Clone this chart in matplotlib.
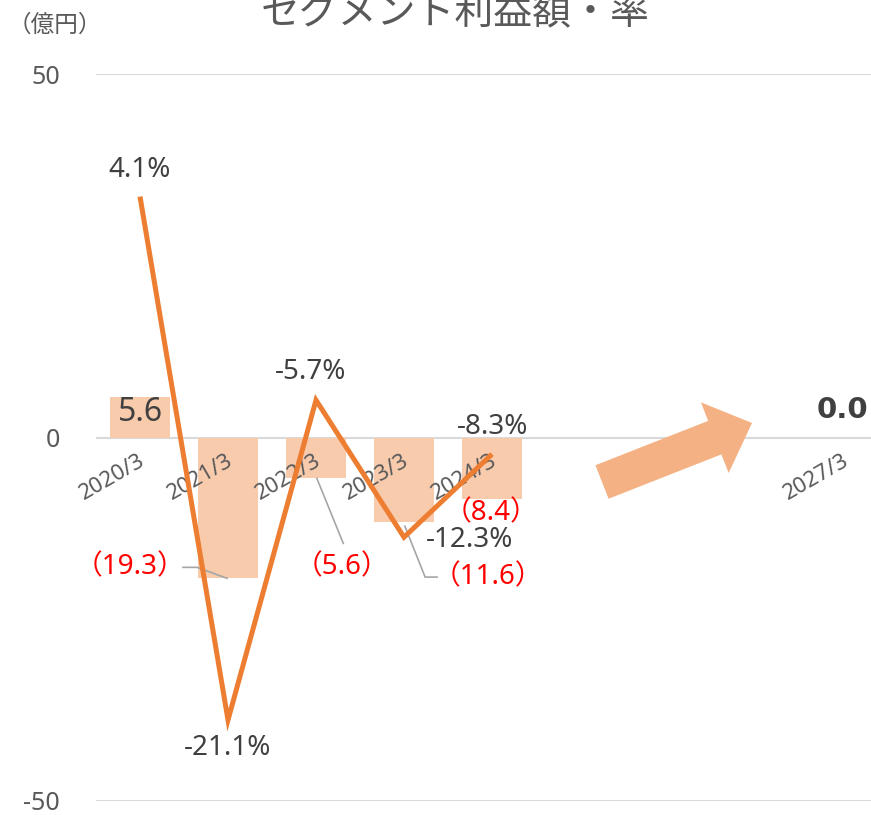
import numpy as np
import matplotlib
matplotlib.use("Agg")
import matplotlib.pyplot as plt
from matplotlib.patches import Polygon

FAM = ['Noto Sans', 'Noto Sans CJK JP', 'DejaVu Sans']
CJK = ['Noto Sans CJK JP', 'DejaVu Sans']
plt.rcParams['font.family'] = FAM

# ---- data ----
categories = ["2020/3", "2021/3", "2022/3", "2023/3", "2024/3", "", "", "", "2027/3"]
profit = [5.6, -19.3, -5.6, -11.6, -8.4, np.nan, np.nan, np.nan, 0.0]
margin_cats = [0, 1, 2, 3, 4]
margin = [4.1, -21.1, -5.7, -12.3, -8.3]
title = "セグメント利益額・率"
unit_label = "（億円）"
y_ticks = [-50, 0, 50]

W, H = 871, 815
fig = plt.figure(figsize=(W / 100, H / 100), dpi=100)

left_px, top_px, bottom_px = 96, 74, 801
ncat = len(categories)
cat_px = 88
ax = fig.add_axes([left_px / W, 1 - bottom_px / H, ncat * cat_px / W, (bottom_px - top_px) / H])
x = np.arange(ncat)

BAR = "#F8CBAD"
LINE = "#ED7D31"
GRAY = "#595959"
DARK = "#404040"
RED = "#FF0000"

ax.bar(x, profit, width=0.68, color=BAR, zorder=2)
ax.set_xlim(-0.5, ncat - 0.5)
ax.set_ylim(-50, 50)
ax.set_yticks(y_ticks)
ax.set_yticklabels([str(v) for v in y_ticks], color=GRAY, fontsize=18)
ax.tick_params(axis='y', length=0, pad=26)
ax.grid(axis='y', color="#D9D9D9", linewidth=1.5, zorder=1)
for s in ax.spines.values():
    s.set_visible(False)
ax.set_xticks([])

# category labels along the zero line
for i, c in enumerate(categories):
    if c:
        ax.annotate(c, xy=(i, 0), xytext=(-2, -13), textcoords='offset pixels',
                    rotation=30, rotation_mode='anchor', ha='right', va='top',
                    fontsize=16, color=GRAY, zorder=3)

# bar value labels
def fmt(v):
    return f"{v:.1f}" if v >= 0 else f"（{abs(v):.1f}）"

bar_label_pos = {0: (0.0, 3.4), 1: (-0.11, -17.9), 2: (2.30, -17.9),
                 3: (3.95, -19.2), 4: (3.99, -10.4), 8: (7.98, 3.85)}
for i, (lx, ly) in bar_label_pos.items():
    v = profit[i]
    if v > 0:
        kw = dict(fontsize=23, color=DARK)
    elif v == 0:
        kw = dict(fontsize=21, color=DARK, fontweight='bold', family=['DejaVu Sans'])
    else:
        kw = dict(fontsize=20, color=RED)
    ax.text(lx, ly, fmt(v), ha='center', va='center', zorder=4, **kw)

# leader lines
leaders = [([0.489, 0.648, 0.989], [-17.86, -17.86, -19.37]),
           ([2.01, 2.31], [-5.63, -14.56]),
           ([3.01, 3.24, 3.375], [-12.2, -19.2, -19.2])]
for lx, ly in leaders:
    ax.plot(lx, ly, color="#A6A6A6", linewidth=1.2, zorder=3)

# margin line on secondary axis
ax2 = ax.twinx()
ax2.set_ylim(-25, 10)
ax2.plot(margin_cats, margin, color=LINE, linewidth=3.6, zorder=5,
         solid_capstyle='butt', solid_joinstyle='miter')
ax2.axis('off')
pct_pos = [(0.0, 5.4), (0.99, -22.46), (1.94, -4.34), (3.75, -12.43), (4.01, -6.99)]
for (px, py), m in zip(pct_pos, margin):
    ax2.text(px, py, f"{m:.1f}%", ha='center', va='center', fontsize=20, color=DARK)

# decorative arrow (pixel geometry -> figure fraction)
tail = np.array([602.0, 482.0])
tip = np.array([752.0, 423.0])
u = (tip - tail) / np.linalg.norm(tip - tail)
n = np.array([-u[1], u[0]])
shaft_hw, head_hw, head_len = 18, 38, 40
base = tip - head_len * u
pts = [tail + shaft_hw * n, base + shaft_hw * n, base + head_hw * n, tip,
       base - head_hw * n, base - shaft_hw * n, tail - shaft_hw * n]
pts = [(p[0] / W, 1 - p[1] / H) for p in pts]
fig.patches.append(Polygon(pts, closed=True, facecolor="#F4B183", edgecolor='none',
                           transform=fig.transFigure, zorder=6))

# title and unit
fig.text(455 / W, 1 - 13 / H, title, ha='center', va='center', fontsize=28,
         color=GRAY, family=CJK)
fig.text(55 / W, 1 - 25 / H, unit_label, ha='center', va='center', fontsize=17,
         color=GRAY, family=CJK)

fig.savefig("out.png", dpi=100)
